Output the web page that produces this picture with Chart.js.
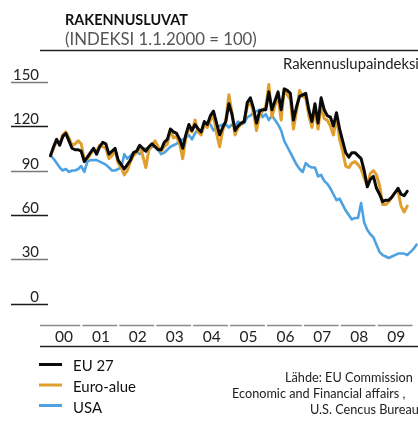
<!DOCTYPE html>
<html>
<head>
<meta charset="utf-8">
<script src="https://cdn.jsdelivr.net/npm/chart.js@4.4.1/dist/chart.umd.min.js"></script>
<style>
html,body{margin:0;padding:0;background:#fff;}
canvas{display:block;}
</style>
</head>
<body>
<canvas id="c" width="418" height="426"></canvas>
<script>
// ---- data (monthly index, Jan 2000 = month 0, 1.1.2000 = 100) ----
const yearLabels = ['00','01','02','03','04','05','06','07','08','09'];
const yTicks = [0, 30, 60, 90, 120, 150];
const seriesNames = ['EU 27', 'Euro-alue', 'USA'];

const eu27 = [
100,106,111,107,113,115,110,105,104,104,103,96,
99,102,105,101,106,109,108,101,103,105,97,94,
91,94,97,102,103,107,105,103,106,108,106,104,
104,109,111,118,116,115,111,105,114,121,117,121,
118,116,123,121,127,130,122,114,119,123,135,128,
117,120,122,123,136,139,132,122,130,131,131,143,
131,137,143,131,145,144,142,124,133,140,141,142,
131,123,135,122,139,131,127,126,120,129,118,110,
102,99,102,102,100,98,90,79,84,86,78,74,
69,70,70,72,75,78,74,73,76
];
const euroArea = [
100,105,110,108,114,116,112,107,108,110,108,97,
98,101,104,103,107,106,105,98,100,104,95,92,
87,90,96,100,102,106,100,92,104,107,110,106,
103,106,108,117,112,113,108,98,112,118,116,124,
116,114,121,119,124,127,115,106,117,124,141,129,
114,119,121,124,133,137,129,117,128,130,133,148,
126,134,140,124,145,141,138,118,130,144,140,139,
127,119,131,118,134,125,124,120,114,126,111,103,
93,92,95,96,94,91,85,80,88,90,87,80,
67,67,69,72,75,76,66,62,66
];
const usa = [
100,98,95,92,90,91,89,90,90,91,93,89,
96,97,97,97,96,95,94,92,90,90,91,92,
101,98,100,102,103,101,103,105,104,106,106,104,
101,102,104,106,107,108,110,111,112,114,111,115,
118,116,120,122,121,117,119,120,121,121,119,121,
120,123,121,122,126,127,129,130,131,126,128,124,
127,124,121,117,110,106,102,98,94,91,89,95,
93,92,92,86,87,83,81,78,74,70,71,67,
63,60,57,58,58,68,55,50,47,45,40,35,
33,32,31,32,33,34,34,34,33,35,37,40
];

const colors = { eu27: '#0a0a0a', euro: '#e09e2c', usa: '#4ea2e2' };
const FAMILY = "Lato, 'Open Sans', 'DejaVu Sans', sans-serif";

const toXY = arr => arr.map((v, i) => ({ x: i, y: v }));

function fitSize(ctx, text, weight, width) {
  ctx.font = `${weight} 100px ${FAMILY}`;
  return 100 * width / ctx.measureText(text).width;
}

const deco = {
  id: 'deco',
  beforeDraw(chart) {
    const ctx = chart.ctx;
    ctx.save();
    ctx.fillStyle = '#fff';
    ctx.fillRect(0, 0, chart.width, chart.height);
    ctx.restore();
  },
  afterDraw(chart) {
    const { ctx, scales: { x, y } } = chart;
    ctx.save();
    ctx.textBaseline = 'alphabetic';

    // Title
    let s = fitSize(ctx, 'RAKENNUSLUVAT', 'bold', 123);
    ctx.font = `bold ${s}px ${FAMILY}`;
    ctx.fillStyle = '#111';
    ctx.textAlign = 'left';
    ctx.fillText('RAKENNUSLUVAT', 65, 25);
    s = fitSize(ctx, '(INDEKSI 1.1.2000 = 100)', 'normal', 192);
    ctx.font = `normal ${s}px ${FAMILY}`;
    ctx.fillStyle = '#555';
    ctx.fillText('(INDEKSI 1.1.2000 = 100)', 65, 45);

    // top rule
    ctx.strokeStyle = '#222';
    ctx.lineWidth = 1.5;
    ctx.beginPath(); ctx.moveTo(40, 50.5); ctx.lineTo(418, 50.5); ctx.stroke();

    // series label
    s = fitSize(ctx, 'Rakennuslupaindeksi', 'normal', 136);
    ctx.font = `normal ${s}px ${FAMILY}`;
    ctx.fillStyle = '#222';
    ctx.fillText('Rakennuslupaindeksi', 283, 69);

    // y ticks
    const ys = fitSize(ctx, '120', 'normal', 26);
    yTicks.forEach((v, i) => {
      const py = Math.round(y.getPixelForValue(v)) + 0.5;
      ctx.strokeStyle = (v / 30) % 2 === 1 ? '#1a1a1a' : '#7a7a7a';
      if (v === 0) ctx.strokeStyle = '#1a1a1a';
      if (v === 150 || v === 90 || v === 30) ctx.strokeStyle = '#7a7a7a';
      if (v === 120 || v === 60 || v === 0) ctx.strokeStyle = '#1a1a1a';
      ctx.lineWidth = 1.5;
      ctx.beginPath(); ctx.moveTo(11, py); ctx.lineTo(48, py); ctx.stroke();
      ctx.font = `normal ${ys}px ${FAMILY}`;
      ctx.fillStyle = '#222';
      ctx.textAlign = 'right';
      ctx.fillText(String(v), 39, py - 2.5);
    });

    // x axis segments & labels
    ctx.strokeStyle = '#8a8a8a';
    ctx.lineWidth = 1.5;
    const xs = fitSize(ctx, '00', 'normal', 18);
    yearLabels.forEach((lab, i) => {
      let a = x.getPixelForValue(i * 12 - 1.6);
      let b = x.getPixelForValue(i * 12 + 9.7);
      if (i === 0) a = 40;
      ctx.beginPath(); ctx.moveTo(a, 325.5); ctx.lineTo(b, 325.5); ctx.stroke();
      ctx.font = `normal ${xs}px ${FAMILY}`;
      ctx.fillStyle = '#222';
      ctx.textAlign = 'center';
      ctx.fillText(lab, x.getPixelForValue(i * 12 + 4.4), 341.5);
    });
    ctx.strokeStyle = '#222';
    ctx.beginPath(); ctx.moveTo(40, 346.5); ctx.lineTo(418, 346.5); ctx.stroke();

    // legend
    const legY = [364.5, 385, 405.5];
    const legBase = [371, 392, 413];
    const legCol = [colors.eu27, colors.euro, colors.usa];
    const ls = fitSize(ctx, 'Euro-alue', 'normal', 63);
    seriesNames.forEach((n, i) => {
      ctx.strokeStyle = legCol[i];
      ctx.lineWidth = 3;
      ctx.beginPath(); ctx.moveTo(39, legY[i]); ctx.lineTo(62, legY[i]); ctx.stroke();
      ctx.font = `normal ${ls}px ${FAMILY}`;
      ctx.fillStyle = '#111';
      ctx.textAlign = 'left';
      ctx.fillText(n, 73, legBase[i]);
    });

    // source
    const ss = fitSize(ctx, 'Lähde: EU Commission', 'normal', 128);
    ctx.font = `normal ${ss}px ${FAMILY}`;
    ctx.fillStyle = '#222';
    ctx.textAlign = 'left';
    ctx.fillText('Lähde: EU Commission', 285, 382);
    ctx.fillText('Economic and Financial affairs ,', 232, 397.5);
    ctx.fillText('U.S. Cencus Bureau', 310, 414);

    ctx.restore();
  }
};

new Chart(document.getElementById('c'), {
  type: 'line',
  data: {
    datasets: [
      { label: seriesNames[0], data: toXY(eu27), borderColor: colors.eu27, borderWidth: 3 },
      { label: seriesNames[1], data: toXY(euroArea), borderColor: colors.euro, borderWidth: 3 },
      { label: seriesNames[2], data: toXY(usa), borderColor: colors.usa, borderWidth: 2.6 }
    ]
  },
  options: {
    responsive: false,
    animation: false,
    devicePixelRatio: 1,
    layout: { padding: { left: 40, right: 0, top: 60, bottom: 106 } },
    elements: { point: { radius: 0 }, line: { tension: 0, borderJoinStyle: 'round', borderCapStyle: 'round' } },
    plugins: { legend: { display: false }, tooltip: { enabled: false }, title: { display: false } },
    scales: {
      x: { type: 'linear', display: false, min: -3.41, max: 119.5 },
      y: { type: 'linear', display: false, min: -10.79, max: 164.5 }
    }
  },
  plugins: [deco]
});
</script>
</body>
</html>
